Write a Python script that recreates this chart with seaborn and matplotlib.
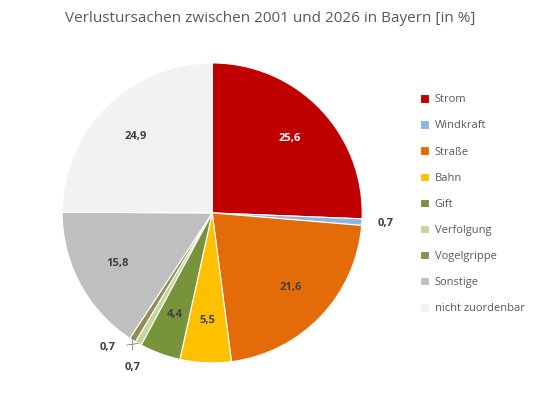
import matplotlib
matplotlib.use("Agg")
import matplotlib.pyplot as plt
import seaborn as sns
import numpy as np

sns.set_theme(style="white")
plt.rcParams['font.family'] = ['Open Sans', 'DejaVu Sans']

categories = ["Strom", "Windkraft", "Straße", "Bahn", "Gift", "Verfolgung",
              "Vogelgrippe", "Sonstige", "nicht zuordenbar"]
values = [25.6, 0.7, 21.6, 5.5, 4.4, 0.7, 0.7, 15.8, 24.9]
labels = ["25,6", "0,7", "21,6", "5,5", "4,4", "0,7", "0,7", "15,8", "24,9"]
colors = ["#C00000", "#8DB4E2", "#E36C09", "#FFC000", "#77933C", "#C3D69B",
          "#948A54", "#BFBFBF", "#F2F2F2"]

fig = plt.figure(figsize=(5.4, 4.01), dpi=100)
ax = fig.add_axes([0.115, 0.095, 0.556, 0.748])
wedges, _ = ax.pie(values, colors=colors, startangle=90, counterclock=False,
                   wedgeprops=dict(edgecolor="white", linewidth=0.8))
ax.set_xlim(-1, 1)
ax.set_ylim(-1, 1)
ax.set_aspect("equal")

for i, (w, lab) in enumerate(zip(wedges, labels)):
    ang = np.deg2rad((w.theta1 + w.theta2) / 2)
    x, y = np.cos(ang), np.sin(ang)
    col = "white" if i == 0 else "#404040"
    if i == 1:
        ax.text(1.13 * x + 0.03, 1.13 * y, lab, ha="center", va="center",
                fontsize=8, fontweight="bold", color="#404040")
    elif i in (5, 6):
        tx, ty = (-0.70, -0.90) if i == 5 else (-0.53, -1.03)
        ax.annotate(lab, xy=(x, y), xytext=(tx, ty),
                    ha="center", va="center", fontsize=8, fontweight="bold",
                    color="#404040",
                    arrowprops=dict(arrowstyle="-", color="#808080", lw=0.6,
                                    shrinkA=6, shrinkB=0))
    else:
        r = 0.72
        ax.text(r * x, r * y, lab, ha="center", va="center", fontsize=8,
                fontweight="bold", color=col)

fig.text(0.5, 0.955, "Verlustursachen zwischen 2001 und 2026 in Bayern [in %]",
         ha="center", va="center", fontsize=11, color="#595959")

leg = fig.legend(wedges, categories, loc="upper left", bbox_to_anchor=(0.76, 0.79),
                 frameon=False, fontsize=8, handlelength=0.8, handleheight=0.8,
                 labelspacing=1.35, handletextpad=0.5)
for t in leg.get_texts():
    t.set_color("#595959")

fig.savefig("out.png", dpi=100)
